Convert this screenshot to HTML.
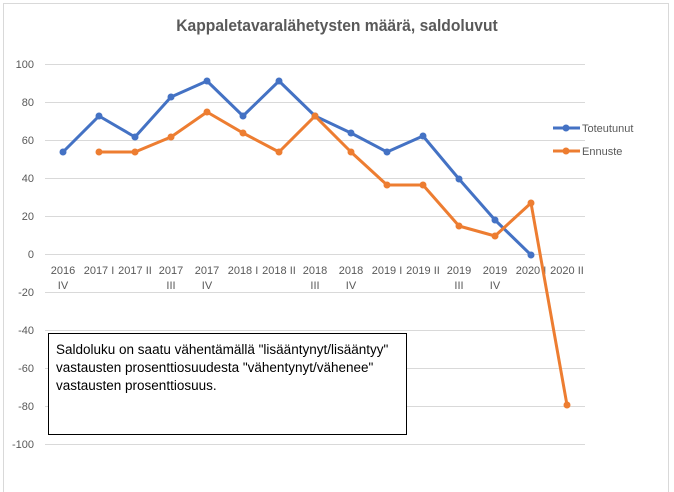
<!DOCTYPE html>
<html><head><meta charset="utf-8"><style>
html,body{margin:0;padding:0;background:#fff;}
svg{display:block;font-family:"Liberation Sans",sans-serif;}
</style></head><body>
<svg width="674" height="492" viewBox="0 0 674 492">
<rect x="0" y="0" width="674" height="492" fill="#fff"/>
<rect x="3.5" y="3.5" width="665" height="490" fill="#fff" stroke="#d9d9d9"/>
<text x="337" y="31" text-anchor="middle" font-size="17" font-weight="bold" fill="#595959" transform="translate(337 0) scale(0.92 1) translate(-337 0)">Kappaletavaralähetysten määrä, saldoluvut</text>
<g stroke="#d9d9d9" stroke-width="1">
<line x1="45" x2="585" y1="64.5" y2="64.5"/>
<line x1="45" x2="585" y1="102.5" y2="102.5"/>
<line x1="45" x2="585" y1="140.5" y2="140.5"/>
<line x1="45" x2="585" y1="178.5" y2="178.5"/>
<line x1="45" x2="585" y1="216.5" y2="216.5"/>
<line x1="45" x2="585" y1="254.5" y2="254.5"/>
<line x1="45" x2="585" y1="292.5" y2="292.5"/>
<line x1="45" x2="585" y1="330.5" y2="330.5"/>
<line x1="45" x2="585" y1="368.5" y2="368.5"/>
<line x1="45" x2="585" y1="406.5" y2="406.5"/>
<line x1="45" x2="585" y1="444.5" y2="444.5"/>
</g>
<g font-size="11" fill="#595959" text-anchor="end">
<text x="34" y="68">100</text><text x="34" y="106">80</text><text x="34" y="144">60</text>
<text x="34" y="182">40</text><text x="34" y="220">20</text><text x="34" y="258">0</text>
<text x="34" y="296">-20</text><text x="34" y="334">-40</text><text x="34" y="372">-60</text>
<text x="34" y="410">-80</text><text x="34" y="448">-100</text>
</g>
<g font-size="11" fill="#595959" text-anchor="middle">
<text x="63" y="274">2016</text><text x="63" y="289">IV</text>
<text x="99" y="274">2017 I</text>
<text x="135" y="274">2017 II</text>
<text x="171" y="274">2017</text><text x="171" y="289">III</text>
<text x="207" y="274">2017</text><text x="207" y="289">IV</text>
<text x="243" y="274">2018 I</text>
<text x="279" y="274">2018 II</text>
<text x="315" y="274">2018</text><text x="315" y="289">III</text>
<text x="351" y="274">2018</text><text x="351" y="289">IV</text>
<text x="387" y="274">2019 I</text>
<text x="423" y="274">2019 II</text>
<text x="459" y="274">2019</text><text x="459" y="289">III</text>
<text x="495" y="274">2019</text><text x="495" y="289">IV</text>
<text x="531" y="274">2020 I</text>
<text x="567" y="274">2020 II</text>
</g>
<polyline fill="none" stroke="#4472c4" stroke-width="3" stroke-linejoin="round" points="63,152 99,116 135,137 171,97 207,81 243,116 279,81 315,116 351,133 387,152 423,136 459,179 495,220 531,255"/>
<g fill="#4472c4">
<circle cx="63" cy="152" r="3.5"/><circle cx="99" cy="116" r="3.5"/><circle cx="135" cy="137" r="3.5"/><circle cx="171" cy="97" r="3.5"/><circle cx="207" cy="81" r="3.5"/><circle cx="243" cy="116" r="3.5"/><circle cx="279" cy="81" r="3.5"/><circle cx="315" cy="116" r="3.5"/><circle cx="351" cy="133" r="3.5"/><circle cx="387" cy="152" r="3.5"/><circle cx="423" cy="136" r="3.5"/><circle cx="459" cy="179" r="3.5"/><circle cx="495" cy="220" r="3.5"/><circle cx="531" cy="255" r="3.5"/>
</g>
<polyline fill="none" stroke="#ed7d31" stroke-width="3" stroke-linejoin="round" points="99,152 135,152 171,137 207,112 243,133 279,152 315,116 351,152 387,185 423,185 459,226 495,236 531,203 567,405"/>
<g fill="#ed7d31">
<circle cx="99" cy="152" r="3.5"/><circle cx="135" cy="152" r="3.5"/><circle cx="171" cy="137" r="3.5"/><circle cx="207" cy="112" r="3.5"/><circle cx="243" cy="133" r="3.5"/><circle cx="279" cy="152" r="3.5"/><circle cx="315" cy="116" r="3.5"/><circle cx="351" cy="152" r="3.5"/><circle cx="387" cy="185" r="3.5"/><circle cx="423" cy="185" r="3.5"/><circle cx="459" cy="226" r="3.5"/><circle cx="495" cy="236" r="3.5"/><circle cx="531" cy="203" r="3.5"/><circle cx="567" cy="405" r="3.5"/>
</g>
<line x1="553" x2="580" y1="128" y2="128" stroke="#4472c4" stroke-width="3"/><circle cx="566" cy="128" r="3.5" fill="#4472c4"/>
<text x="582" y="132" font-size="11" fill="#595959">Toteutunut</text>
<line x1="553" x2="580" y1="151" y2="151" stroke="#ed7d31" stroke-width="3"/><circle cx="566" cy="151" r="3.5" fill="#ed7d31"/>
<text x="582" y="155" font-size="11" fill="#595959">Ennuste</text>
<rect x="48.5" y="333.5" width="358" height="101" fill="#fff" stroke="#000" stroke-width="1"/>
<g font-size="13.5" fill="#000">
<text x="56" y="354">Saldoluku on saatu vähentämällä "lisääntynyt/lisääntyy"</text>
<text x="56" y="372">vastausten prosenttiosuudesta "vähentynyt/vähenee"</text>
<text x="56" y="390">vastausten prosenttiosuus.</text>
</g>
</svg>
</body></html>
